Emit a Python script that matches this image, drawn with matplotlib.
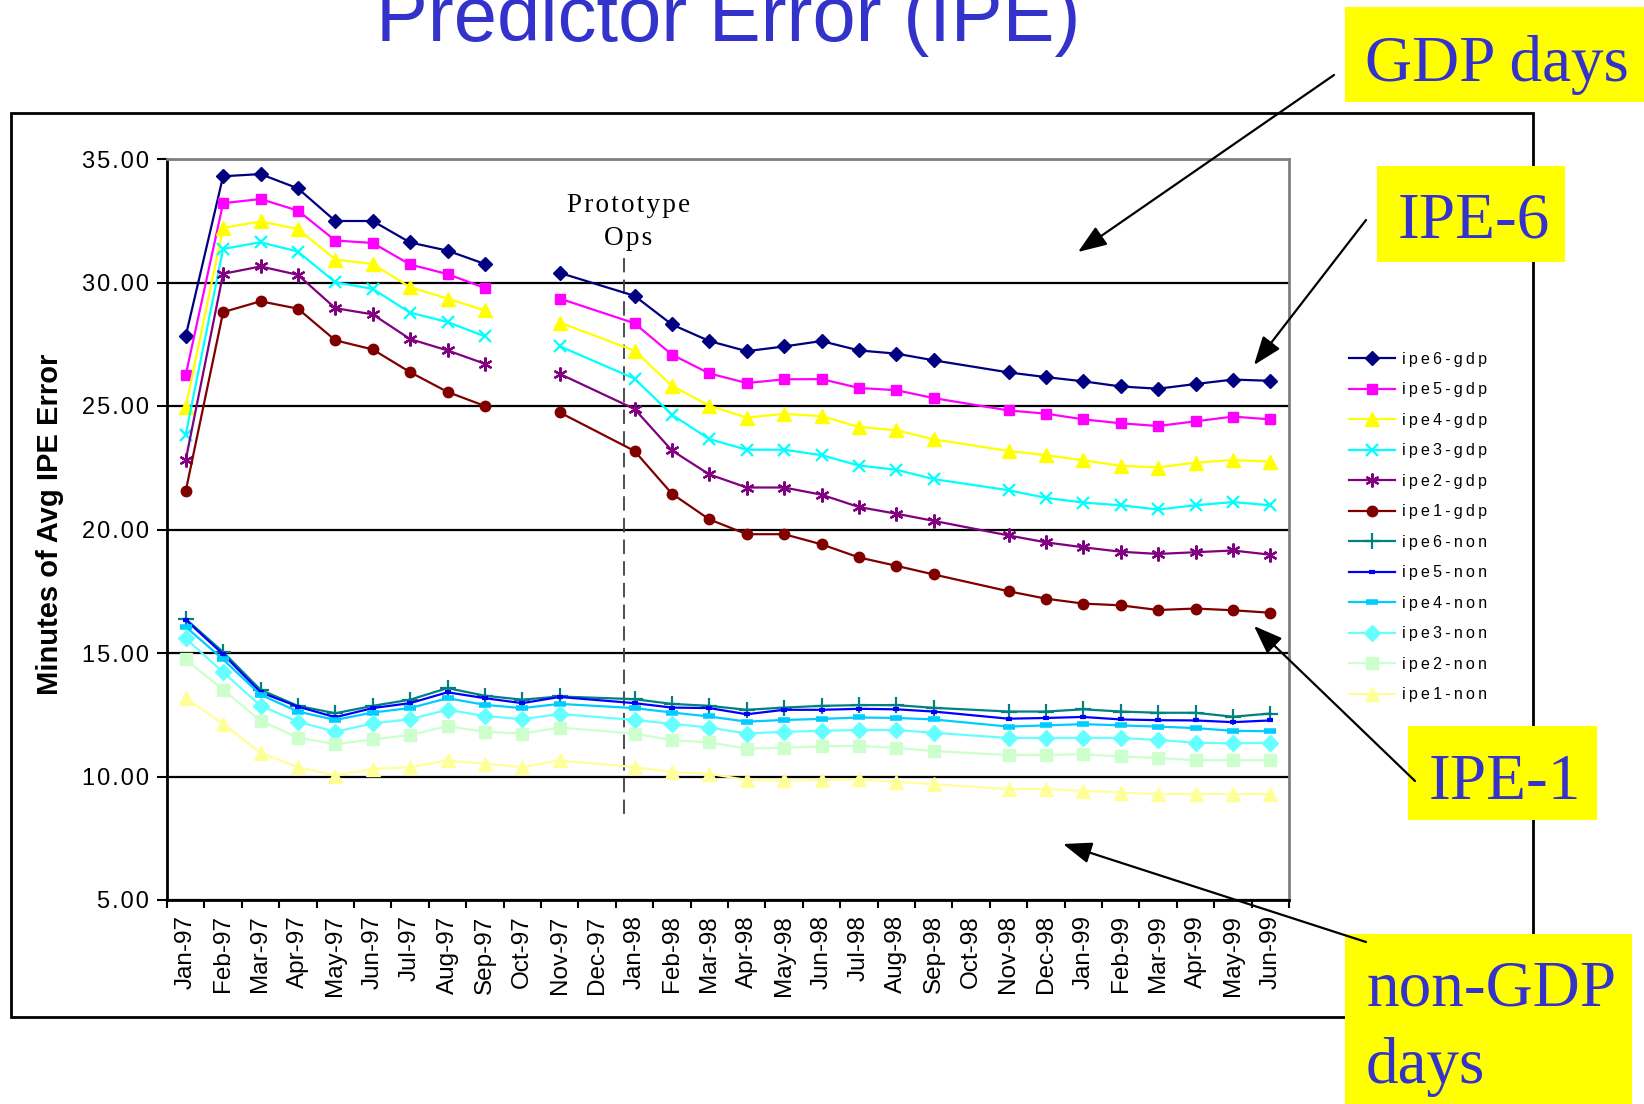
"""Predictor Error (IPE) slide: avg IPE error per month, GDP vs non-GDP days."""
import numpy as np
import matplotlib
matplotlib.use('Agg')
import matplotlib.pyplot as plt
from matplotlib import font_manager
from matplotlib.patches import Rectangle, FancyArrowPatch
from matplotlib.lines import Line2D

nan = np.nan
months = ['Jan-97', 'Feb-97', 'Mar-97', 'Apr-97', 'May-97', 'Jun-97', 'Jul-97', 'Aug-97',
          'Sep-97', 'Oct-97', 'Nov-97', 'Dec-97', 'Jan-98', 'Feb-98', 'Mar-98', 'Apr-98',
          'May-98', 'Jun-98', 'Jul-98', 'Aug-98', 'Sep-98', 'Oct-98', 'Nov-98', 'Dec-98',
          'Jan-99', 'Feb-99', 'Mar-99', 'Apr-99', 'May-99', 'Jun-99']

ipe6_gdp = [27.83, 34.30, 34.39, 33.81, 32.49, 32.49, 31.62, 31.29, 30.75, nan, 30.39, nan,
            29.46, 28.30, 27.63, 27.22, 27.41, 27.63, 27.25, 27.12, 26.85, nan, 26.36, 26.17,
            26.00, 25.79, 25.70, 25.89, 26.07, 26.02]
ipe5_gdp = [26.25, 33.21, 33.38, 32.91, 31.70, 31.60, 30.73, 30.34, 29.78, nan, 29.35, nan,
            28.35, 27.08, 26.32, 25.93, 26.08, 26.09, 25.73, 25.64, 25.32, nan, 24.82, 24.69,
            24.46, 24.30, 24.19, 24.38, 24.57, 24.46]
ipe4_gdp = [24.96, 32.21, 32.47, 32.17, 30.93, 30.75, 29.81, 29.35, 28.87, nan, 28.38, nan,
            27.24, 25.82, 25.01, 24.53, 24.68, 24.59, 24.15, 24.02, 23.65, nan, 23.18, 23.01,
            22.80, 22.58, 22.51, 22.71, 22.81, 22.75]
ipe3_gdp = [23.84, 31.36, 31.63, 31.25, 30.01, 29.74, 28.78, 28.40, 27.82, nan, 27.42, nan,
            26.11, 24.65, 23.66, 23.23, 23.23, 23.01, 22.59, 22.42, 22.04, nan, 21.59, 21.28,
            21.09, 20.98, 20.81, 20.98, 21.11, 20.98]
ipe2_gdp = [22.81, 30.35, 30.65, 30.31, 28.96, 28.71, 27.71, 27.25, 26.71, nan, 26.30, nan,
            24.88, 23.20, 22.23, 21.70, 21.70, 21.41, 20.91, 20.64, 20.35, nan, 19.76, 19.48,
            19.28, 19.10, 19.01, 19.08, 19.15, 18.98]
ipe1_gdp = [21.55, 28.80, 29.24, 28.94, 27.66, 27.29, 26.37, 25.57, 25.00, nan, 24.74, nan,
            23.18, 21.45, 20.41, 19.81, 19.81, 19.40, 18.87, 18.53, 18.18, nan, 17.50, 17.20,
            17.00, 16.93, 16.74, 16.80, 16.73, 16.63]

ipe6_non = [16.38, 15.04, 13.51, 12.86, 12.56, 12.86, 13.11, 13.58, 13.27, 13.11, 13.24, nan,
            13.13, 12.94, 12.86, 12.70, 12.79, 12.86, 12.89, 12.89, 12.78, nan, 12.63, 12.63,
            12.72, 12.63, 12.58, 12.58, 12.42, 12.55]
ipe5_non = [16.34, 14.95, 13.41, 12.83, 12.40, 12.77, 12.97, 13.41, 13.17, 12.97, 13.22, nan,
            12.97, 12.79, 12.77, 12.52, 12.70, 12.70, 12.74, 12.72, 12.63, nan, 12.34, 12.37,
            12.41, 12.31, 12.28, 12.27, 12.20, 12.27]
ipe4_non = [16.06, 14.74, 13.31, 12.63, 12.29, 12.59, 12.77, 13.17, 12.90, 12.77, 12.94, nan,
            12.77, 12.59, 12.43, 12.22, 12.29, 12.33, 12.39, 12.37, 12.31, nan, 12.02, 12.07,
            12.12, 12.07, 12.02, 11.96, 11.85, 11.83]
ipe3_non = [15.59, 14.22, 12.87, 12.22, 11.81, 12.15, 12.32, 12.70, 12.45, 12.32, 12.53, nan,
            12.29, 12.13, 11.98, 11.74, 11.81, 11.85, 11.88, 11.88, 11.77, nan, 11.56, 11.56,
            11.56, 11.56, 11.48, 11.37, 11.34, 11.37]
ipe2_non = [14.74, 13.51, 12.26, 11.57, 11.31, 11.50, 11.68, 12.04, 11.81, 11.74, 11.98, nan,
            11.74, 11.47, 11.38, 11.13, 11.16, 11.22, 11.24, 11.16, 11.03, nan, 10.87, 10.87,
            10.90, 10.81, 10.75, 10.66, 10.66, 10.66]
ipe1_non = [13.17, 12.13, 10.97, 10.38, 10.04, 10.31, 10.38, 10.65, 10.52, 10.38, 10.65, nan,
            10.38, 10.18, 10.11, 9.86, 9.84, 9.86, 9.89, 9.78, 9.69, nan, 9.49, 9.49,
            9.42, 9.35, 9.29, 9.29, 9.29, 9.29]

# (label, values, colour, marker, markersize, marker edge width)
series = [
    ('ipe6-gdp', ipe6_gdp, '#000080', 'D', 7.5, 1.0),
    ('ipe5-gdp', ipe5_gdp, '#FF00FF', 's', 7.5, 1.0),
    ('ipe4-gdp', ipe4_gdp, '#FFFF00', '^', 9.5, 1.0),
    ('ipe3-gdp', ipe3_gdp, '#00FFFF', 'x', 9, 1.6),
    ('ipe2-gdp', ipe2_gdp, '#800080', (6, 2, 0), 10, 1.6),
    ('ipe1-gdp', ipe1_gdp, '#800000', 'o', 7.5, 1.0),
    ('ipe6-non', ipe6_non, '#008080', '+', 11, 1.6),
    ('ipe5-non', ipe5_non, '#0000FF', '_', 5, 3.0),
    ('ipe4-non', ipe4_non, '#00CCFF', '_', 8, 4.0),
    ('ipe3-non', ipe3_non, '#66FFFF', 'D', 8, 1.0),
    ('ipe2-non', ipe2_non, '#CCFFCC', 's', 8, 1.0),
    ('ipe1-non', ipe1_non, '#FFFF99', '^', 9.5, 1.0),
]

W, H = 1644, 1104
BLUE = '#3333CC'
SANS = ['Liberation Sans', 'DejaVu Sans']
SERIF = ['Liberation Serif', 'DejaVu Serif']


def fx(px):
    return px / W


def fy(py):
    return 1 - py / H


def spaced(s, sep='\u2009'):
    return sep.join(s)


fig = plt.figure(figsize=(W / 100, H / 100), dpi=100)
plt.rcParams['font.family'] = SANS

# outer chart frame
fig.add_artist(Rectangle((fx(11), fy(1017)), fx(1533) - fx(11), fy(113) - fy(1017),
                         transform=fig.transFigure, fill=False, ec='black', lw=2))

ax = fig.add_axes([fx(167), fy(900), fx(1289) - fx(167), fy(159) - fy(900)])
x = np.arange(len(months))
gap = months.index('Oct-97')    # only break in the GDP lines; other blanks are bridged
for label, vals, col, mk, ms, mew in series:
    y = np.array(vals, float)
    keep = ~np.isnan(y) | (x == gap)
    ax.plot(x[keep], y[keep], color=col, lw=1.6, marker=mk, ms=ms, mew=mew,
            mec=col, mfc=col, zorder=3)

yt = np.arange(5, 36, 5)
ax.set_xlim(-0.5, len(months) - 0.5)
ax.set_ylim(5, 35)
ax.set_yticks(yt)
ax.set_yticklabels([spaced(f'{v:.2f}', '\u200a') for v in yt], fontsize=17)
ax.set_xticks(x)
ax.set_xticklabels(months, rotation=90, fontsize=17.5)
ax.set_xticks(np.arange(-0.5, len(months), 1), minor=True)
ax.tick_params(axis='x', which='major', length=0, pad=11)
ax.tick_params(axis='x', which='minor', length=6, width=1.5, direction='out')
ax.tick_params(axis='y', length=7, width=1.5, pad=6)
ax.grid(axis='y', color='black', lw=1.6, zorder=1)
ax.set_axisbelow(True)
for side in ('left', 'bottom'):
    ax.spines[side].set_color('black')
    ax.spines[side].set_linewidth(2)
for side in ('top', 'right'):
    ax.spines[side].set_color('#808080')
    ax.spines[side].set_linewidth(2)

# prototype ops marker
ax.plot([11.73, 11.73], [8.5, 31.0], color='#404040', lw=1.3, ls=(0, (8, 4)), zorder=2)
ax.text(11.83, 32.85, spaced('Prototype', '\u200a'), family=SERIF, fontsize=19.5,
        ha='center', va='baseline')
ax.text(11.83, 31.5, spaced('Ops', '\u200a'), family=SERIF, fontsize=19.5,
        ha='center', va='baseline')

fig.text(fx(50), fy(524), 'Minutes of Avg IPE Error', rotation=90, fontsize=21,
         fontweight='bold', ha='center', va='center')

handles = [Line2D([], [], color=c, lw=1.6, marker=m, ms=s, mew=e, mec=c, mfc=c)
           for _, _, c, m, s, e in series]
fig.legend(handles, [spaced(s[0]) for s in series], loc='upper left',
           bbox_to_anchor=(fx(1349), fy(352)), frameon=False, fontsize=11.5,
           numpoints=1, handlelength=2.9, handletextpad=0.4, labelspacing=0.97,
           borderpad=0, borderaxespad=0)

# slide title, cut off at the top edge as on the slide
names = {f.name for f in font_manager.fontManager.ttflist}
if 'Liberation Sans Narrow' in names:
    fig.text(fx(728), fy(41), 'Predictor Error (IPE)', family='Liberation Sans Narrow',
             fontsize=68, color=BLUE, ha='center', va='baseline')
else:
    fig.text(fx(728), fy(41), 'Predictor Error (IPE)', fontsize=56, color=BLUE,
             ha='center', va='baseline')

# yellow call-out boxes
boxes = [((1345, 7, 1644, 102), 'GDP days', (1365, 81)),
         ((1377, 166, 1565, 262), 'IPE-6', (1398, 238)),
         ((1408, 726, 1597, 820), 'IPE-1', (1429, 799)),
         ((1345, 934, 1632, 1104), 'non-GDP\ndays', (1366, 1006))]
for (x0, y0, x1, y1), txt, (tx, ty) in boxes:
    fig.add_artist(Rectangle((fx(x0), fy(y1)), fx(x1) - fx(x0), fy(y0) - fy(y1),
                             transform=fig.transFigure, fc='#FFFF00', ec='none', zorder=5))
    for i, ln in enumerate(txt.split('\n')):
        fig.text(fx(tx), fy(ty + 77 * i), ln, family=SERIF, fontsize=47, color=BLUE,
                 ha='left', va='baseline', zorder=6)

arrows = [((1334, 75), (1078, 252)),
          ((1366, 220), (1254, 365)),
          ((1415, 781), (1254, 626)),
          ((1366, 942), (1063, 844))]
for (ax0, ay0), (ax1, ay1) in arrows:
    fig.add_artist(FancyArrowPatch((fx(ax0), fy(ay0)), (fx(ax1), fy(ay1)),
                                   transform=fig.transFigure,
                                   arrowstyle='-|>,head_length=0.8,head_width=0.3',
                                   mutation_scale=22, lw=1.6, color='black',
                                   shrinkA=0, shrinkB=0, zorder=7))

fig.savefig('out.png', dpi=100)
